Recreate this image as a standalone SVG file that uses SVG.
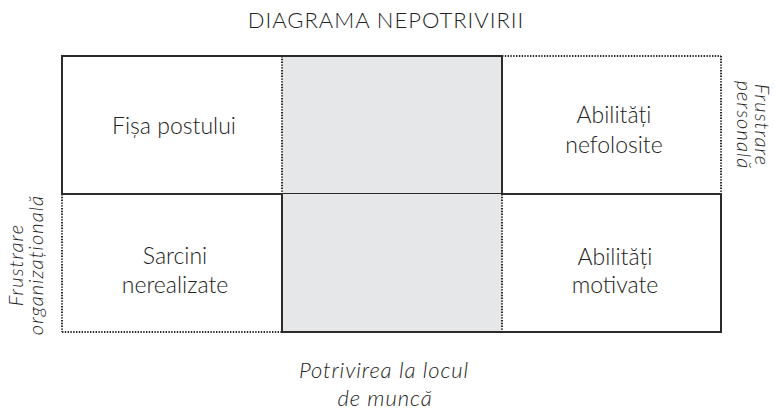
<svg xmlns="http://www.w3.org/2000/svg" width="775" height="410" viewBox="0 0 775 410">
  <style>
    .solid { stroke: #2b2b2b; stroke-width: 2; fill: none; stroke-linecap: square; }
    .dot { stroke: #2b2b2b; stroke-width: 2; fill: none; stroke-dasharray: 1.4 1.4; }
    .shade { fill: #e6e7e8; }
    .lbl { font-family: Lato, "Open Sans", sans-serif; font-weight: 300; font-size: 23px; fill: #222; text-anchor: middle; }
    .it { font-family: Lato, "Open Sans", sans-serif; font-style: italic; font-weight: 300; font-size: 20px; letter-spacing: 1.1px; fill: #222; text-anchor: middle; }
    .it-b { font-size: 22px; letter-spacing: 0.9px; }
    .title { font-family: Lato, "Open Sans", sans-serif; font-weight: 300; font-size: 22px; letter-spacing: 1px; fill: #222; text-anchor: middle; }
  </style>
  <rect width="775" height="410" fill="#fff"/>
  <text class="title" x="386" y="28">DIAGRAMA NEPOTRIVIRII</text>

  <g id="cell-top-middle">
    <rect class="shade" x="282" y="56" width="220" height="138"/>
    <line class="solid" x1="282" y1="56" x2="502" y2="56"/>
    <line class="solid" x1="502" y1="56" x2="502" y2="194"/>
    <line class="solid" x1="282" y1="194" x2="502" y2="194"/>
  </g>
  <g id="cell-bottom-middle">
    <rect class="shade" x="282" y="194" width="220" height="138"/>
    <line class="solid" x1="282" y1="332" x2="502" y2="332"/>
    <line class="dot" x1="502" y1="194" x2="502" y2="332"/>
  </g>
  <g id="cell-fisa">
    <line class="solid" x1="62" y1="56" x2="282" y2="56"/>
    <line class="solid" x1="62" y1="56" x2="62" y2="194"/>
    <line class="solid" x1="62" y1="194" x2="282" y2="194"/>
    <line class="dot" x1="282" y1="56" x2="282" y2="194"/>
    <text class="lbl" x="174" y="134">Fișa postului</text>
  </g>
  <g id="cell-nefolosite">
    <line class="dot" x1="502" y1="56" x2="721" y2="56"/>
    <line class="dot" x1="721" y1="56" x2="721" y2="194"/>
    <line class="solid" x1="502" y1="194" x2="721" y2="194"/>
    <text class="lbl" x="614" y="123">Abilități</text>
    <text class="lbl" x="614" y="153">nefolosite</text>
  </g>
  <g id="cell-sarcini">
    <line class="dot" x1="62" y1="194" x2="62" y2="332"/>
    <line class="dot" x1="62" y1="332" x2="282" y2="332"/>
    <line class="solid" x1="282" y1="194" x2="282" y2="332"/>
    <text class="lbl" x="175" y="264">Sarcini</text>
    <text class="lbl" x="175" y="293">nerealizate</text>
  </g>
  <g id="cell-motivate">
    <line class="solid" x1="721" y1="194" x2="721" y2="332"/>
    <line class="solid" x1="502" y1="332" x2="721" y2="332"/>
    <text class="lbl" x="615" y="265">Abilități</text>
    <text class="lbl" x="615" y="293">motivate</text>
  </g>

  <g id="label-organizationala">
    <text class="it" transform="translate(23,265) rotate(-90)">Frustrare</text>
    <text class="it" transform="translate(43,265) rotate(-90)">organizațională</text>
  </g>
  <g id="label-personala">
    <text class="it" transform="translate(755,125) rotate(90)">Frustrare</text>
    <text class="it" transform="translate(737,125) rotate(90)">personală</text>
  </g>
  <g id="label-potrivirea">
    <text class="it it-b" x="384" y="378">Potrivirea la locul</text>
    <text class="it it-b" x="385" y="406">de muncă</text>
  </g>
</svg>
